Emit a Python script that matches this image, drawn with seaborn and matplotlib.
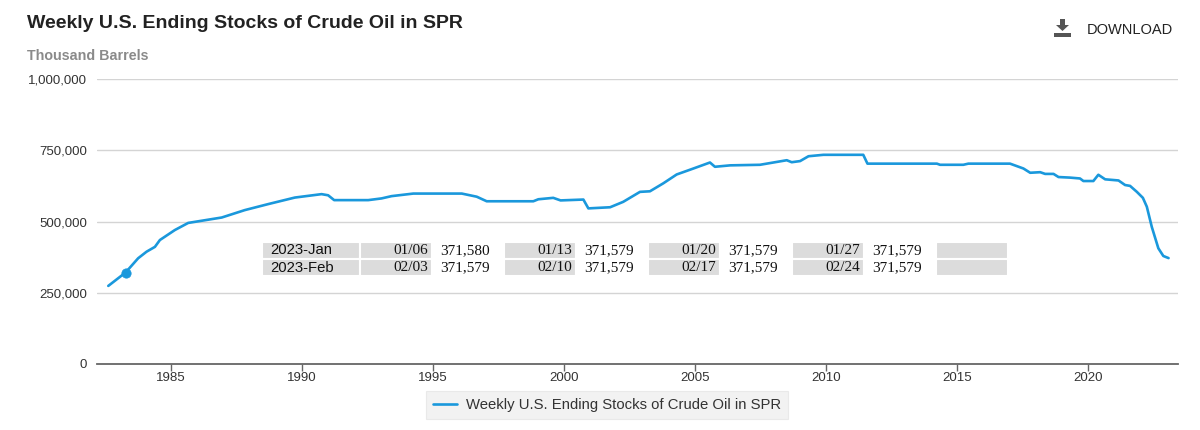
import pandas as pd
import matplotlib
matplotlib.use("Agg")
import matplotlib.pyplot as plt
import seaborn as sns
from matplotlib.patches import Polygon, Rectangle

# Weekly SPR stocks (thousand barrels)
years = [1982.61, 1983.27, 1983.75, 1984.07, 1984.39, 1984.58, 1985.15, 1985.66,
         1986.94, 1987.82, 1988.71, 1989.73, 1990.75, 1991.00, 1991.23, 1992.53,
         1993.04, 1993.42, 1994.25, 1996.10, 1996.67, 1997.05, 1998.83, 1999.02,
         1999.59, 1999.87, 2000.74, 2000.93, 2001.76, 2002.26, 2002.90, 2003.28,
         2003.79, 2004.30, 2004.94, 2005.57, 2005.76, 2006.34, 2007.48, 2008.50,
         2008.69, 2009.01, 2009.33, 2009.90, 2011.42, 2011.58, 2014.23, 2014.35,
         2015.24, 2015.43, 2017.02, 2017.53, 2017.79, 2018.17, 2018.36, 2018.68,
         2018.87, 2019.31, 2019.69, 2019.82, 2020.20, 2020.39, 2020.65, 2021.16,
         2021.41, 2021.60, 2021.86, 2022.09, 2022.24, 2022.43, 2022.68, 2022.87,
         2023.07]
stocks = [274000, 321000, 371000, 394000, 411000, 435000, 470000, 495000,
          514000, 540000, 561000, 584000, 596000, 592000, 575000, 575000,
          581000, 589000, 598000, 598000, 587000, 571000, 571000, 578000,
          583000, 574000, 577000, 546000, 550000, 569000, 604000, 606000,
          634000, 665000, 686000, 707000, 692000, 697000, 699000, 715000,
          708000, 712000, 729000, 734000, 734000, 703000, 703000, 699000,
          699000, 703000, 703000, 686000, 671000, 673000, 667000, 667000,
          656000, 654000, 651000, 642000, 642000, 664000, 648000, 644000,
          628000, 625000, 604000, 583000, 552000, 481000, 406000, 379000,
          371579]
hover_year = [1983.27]
hover_stock = [321000]

x_ticks = [1985, 1990, 1995, 2000, 2005, 2010, 2015, 2020]
y_ticks = [0, 250000, 500000, 750000, 1000000]

# little data table in the middle of the chart
months = ["2023-Jan", "2023-Feb"]
week_dates = [["01/06", "01/13", "01/20", "01/27"],
              ["02/03", "02/10", "02/17", "02/24"]]
week_values = [["371,580", "371,579", "371,579", "371,579"],
               ["371,579", "371,579", "371,579", "371,579"]]

series_name = "Weekly U.S. Ending Stocks of Crude Oil in SPR"
BLUE = "#1a98dc"

sns.set_style("white")
plt.rcParams["font.family"] = ["Liberation Sans", "DejaVu Sans"]

W, H = 1200, 430


def px(x, y):
    return (x / W, 1 - y / H)


df = pd.DataFrame({"year": years, "stocks": stocks})

fig = plt.figure(figsize=(12, 4.3), dpi=100)
ax = fig.add_axes([97 / W, 1 - 364 / H, 1081 / W, 285 / H])

sns.lineplot(data=df, x="year", y="stocks", ax=ax, color=BLUE,
             linewidth=1.9, label=series_name)
sns.scatterplot(x=hover_year, y=hover_stock, ax=ax, color=BLUE, s=45,
                edgecolor=BLUE, zorder=5, legend=False)

ax.set_xlim(1982.18, 2023.43)
ax.set_ylim(0, 1000000)
ax.set_xticks(x_ticks)
ax.set_yticks(y_ticks)
ax.set_yticklabels([f"{v:,}" for v in y_ticks])
ax.set_xlabel("")
ax.set_ylabel("")
ax.grid(axis="y", color="#d4d4d4", linewidth=1)
ax.set_axisbelow(True)
for s in ["top", "right", "left"]:
    ax.spines[s].set_visible(False)
ax.spines["bottom"].set_color("#666666")
ax.spines["bottom"].set_linewidth(1.3)
ax.tick_params(axis="x", length=5, width=1, color="#666666", labelsize=9.5,
               labelcolor="#333333", pad=1, direction="out", bottom=True)
ax.tick_params(axis="y", length=0, labelsize=9.5, labelcolor="#333333", pad=7)

# table
cell_text = []
for m, dates, vals in zip(months, week_dates, week_values):
    row = [m]
    for d, v in zip(dates, vals):
        row += [d, v]
    row.append("")
    cell_text.append(row)
widths = [98] + [72] * 9
total = sum(widths)
x0 = (262 - 97) / 1081
y0 = (364 - 276) / 285
tbl = ax.table(cellText=cell_text, colWidths=[w / total for w in widths],
               bbox=[x0, y0, 746 / 1081, 34 / 285], cellLoc="left")
tbl.auto_set_font_size(False)
tbl.set_fontsize(10.7)
for (r, c), cell in tbl.get_celld().items():
    cell.set_edgecolor("white")
    cell.set_linewidth(1.5)
    is_value = c % 2 == 0 and 0 < c < 9
    cell.set_facecolor("white" if is_value else "#dcdcdc")
    txt = cell.get_text()
    txt.set_color("#111111")
    if c == 0:
        cell.PAD = 0.08
        txt.set_fontfamily(["Liberation Sans", "DejaVu Sans"])
    else:
        txt.set_fontfamily(["Liberation Serif", "DejaVu Serif"])
        txt.set_fontsize(11)
        if is_value:
            cell.PAD = 0.11
        else:
            cell.PAD = 0.05
            txt.set_horizontalalignment("right")

# legend
leg = ax.legend(loc="center", bbox_to_anchor=px(607, 405),
                bbox_transform=fig.transFigure, frameon=True,
                facecolor="#efefef", edgecolor="#e6e6e6", fancybox=False,
                fontsize=10.7, handlelength=1.6, handletextpad=0.6,
                borderpad=0.5, labelcolor="#333333")
leg.get_frame().set_linewidth(0.8)

# titles
fig.text(*px(27, 24), "Weekly U.S. Ending Stocks of Crude Oil in SPR",
         fontsize=14, fontweight="bold", color="#222222", va="center")
fig.text(*px(27, 56), "Thousand Barrels", fontsize=10.3, fontweight="bold",
         color="#8a8a8a", va="center")

# download button
icon = "#555555"
arrow = [px(1060, 19), px(1065, 19), px(1065, 25), px(1069, 25),
         px(1062.5, 31), px(1056, 25), px(1060, 25)]
fig.add_artist(Polygon(arrow, closed=True, transform=fig.transFigure,
                       facecolor=icon, edgecolor="none"))
bx, by = px(1054, 37)
fig.add_artist(Rectangle((bx, by), 17 / W, 4 / H, transform=fig.transFigure,
                         facecolor=icon, edgecolor="none"))
fig.text(*px(1087, 30), "DOWNLOAD", fontsize=10.5, color="#222222",
         va="center")

fig.savefig("out.png", dpi=100)
